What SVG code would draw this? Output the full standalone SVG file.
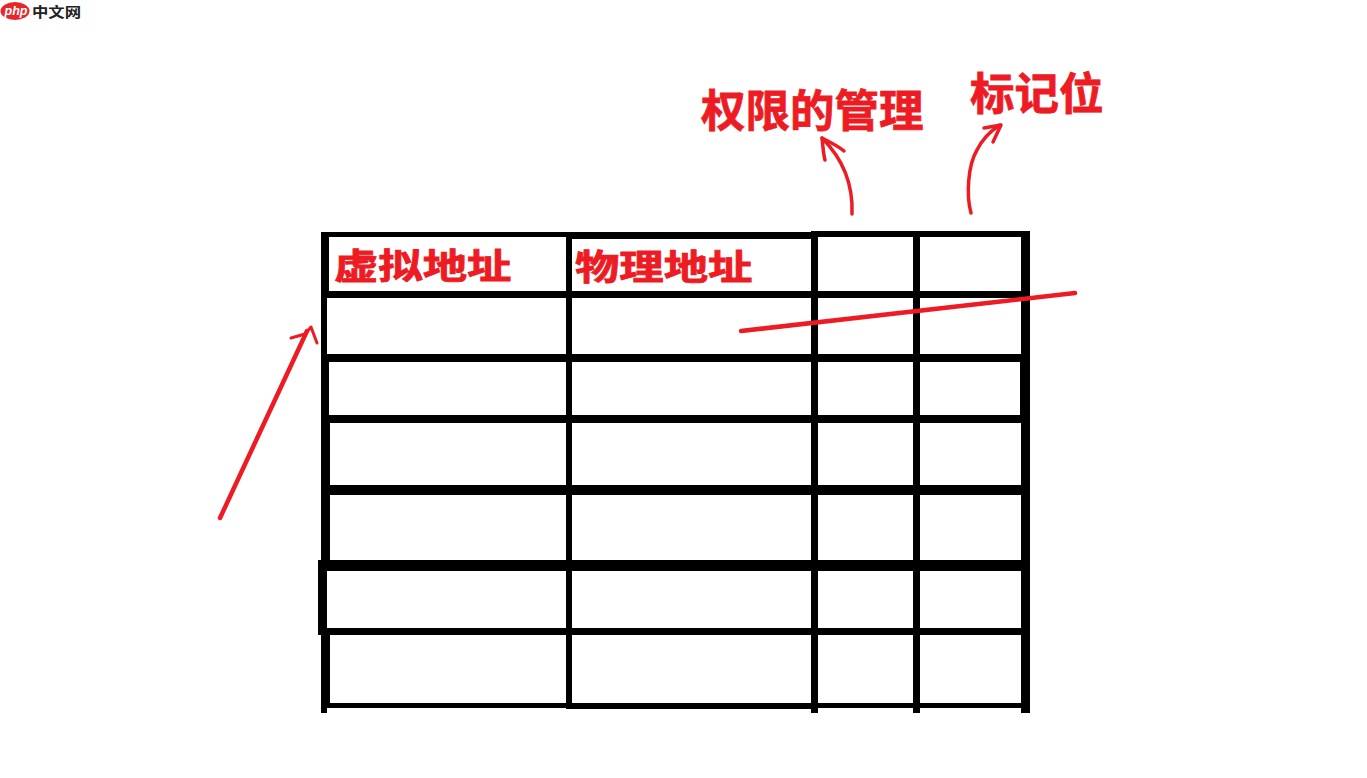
<svg xmlns="http://www.w3.org/2000/svg" width="1367" height="778" viewBox="0 0 1367 778">
<style>
.k{fill:#000;shape-rendering:crispEdges}
.r{fill:none;stroke:#ed1c24;stroke-linecap:round;stroke-linejoin:round}
.t{font-family:"Noto Sans CJK SC","Noto Sans CJK TC",sans-serif;font-weight:700;fill:#ed1c24;stroke:#ed1c24;stroke-width:.8}
</style>
<rect width="1367" height="778" fill="#fff"/>
<g id="logo">
<ellipse cx="15" cy="11" rx="14.5" ry="9" fill="#e8262a"/>
<text x="4.500" y="15" font-family="'Liberation Sans',sans-serif" font-style="italic" font-weight="700" font-size="12.500" fill="#fff">php</text>
<text transform="translate(32 16.800) scale(1.17 1)" font-family="'Noto Sans CJK SC',sans-serif" font-weight="700" font-size="14" fill="#222">中文网</text>
</g>
<g id="table">
<rect class="k" x="321" y="232" width="8" height="60"/>
<rect class="k" x="321" y="291" width="6" height="68"/>
<rect class="k" x="321" y="354" width="8" height="62"/>
<rect class="k" x="321" y="415" width="9" height="146"/>
<rect class="k" x="318" y="560" width="9" height="75"/>
<rect class="k" x="321" y="628" width="9" height="76"/>
<rect class="k" x="321" y="700" width="6" height="13"/>
<rect class="k" x="566" y="232" width="6" height="477"/>
<rect class="k" x="811" y="231" width="7" height="482"/>
<rect class="k" x="913" y="231" width="7" height="482"/>
<rect class="k" x="1021" y="231" width="9" height="482"/>
<rect class="k" x="1020" y="354" width="10" height="62"/>
<rect class="k" x="321" y="232" width="250" height="5"/>
<rect class="k" x="566" y="232" width="250" height="7"/>
<rect class="k" x="812" y="231" width="218" height="6"/>
<rect class="k" x="321" y="291" width="709" height="7"/>
<rect class="k" x="321" y="354" width="709" height="8"/>
<rect class="k" x="321" y="415" width="709" height="8"/>
<rect class="k" x="321" y="485" width="709" height="10"/>
<rect class="k" x="318" y="560" width="712" height="11"/>
<rect class="k" x="318" y="628" width="712" height="7"/>
<rect class="k" x="321" y="703" width="709" height="5"/>
<rect class="k" x="566" y="704" width="250" height="5"/>
</g>
<g id="labels">
<text class="t" transform="translate(334 279) scale(1.25 1)" font-size="35.5">虚拟地址</text>
<text class="t" transform="translate(575 280) scale(1.25 1)" font-size="35.5">物理地址</text>
<text class="t" x="701" y="127" font-size="44.5">权限的管理</text>
<text class="t" x="970" y="110" font-size="44.5">标记位</text>
</g>
<g id="connectors">
<path class="r" stroke-width="4.500" d="M220 518L307 331"/>
<path class="r" stroke-width="3" d="M291 338L305 334L311 327L317 343"/>
<path class="r" stroke-width="4.500" d="M741 331L1075 293"/>
<path class="r" stroke-width="3.500" d="M852 214C853 190 846 162 822 138"/>
<path class="r" stroke-width="3.500" d="M825 160C823 152 823 146 822 138C830 142 838 146 844 151"/>
<path class="r" stroke-width="3.500" d="M971 213C966 195 968 165 977 150C983 138 992 130 1000 125"/>
<path class="r" stroke-width="3.500" d="M984 128L1001 125L993 142"/>
</g>
</svg>
